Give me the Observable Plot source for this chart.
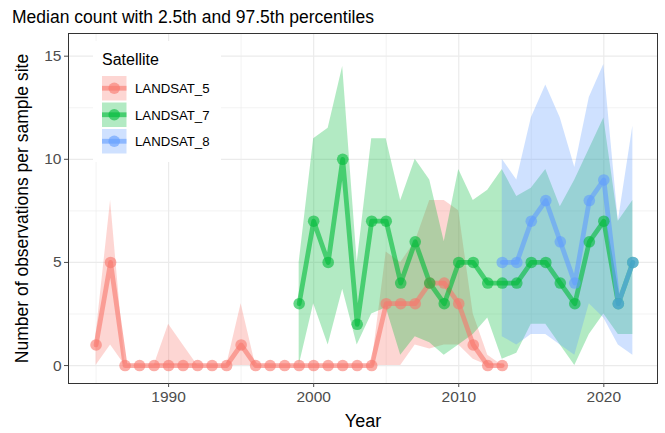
<!DOCTYPE html>
<html><head><meta charset="utf-8">
<script src="https://cdn.jsdelivr.net/npm/d3@7"></script>
<script src="https://cdn.jsdelivr.net/npm/@observablehq/plot@0.6"></script>
<style>
body{margin:0;background:#fff;font-family:"Liberation Sans",Arial,sans-serif;}
#wrap{position:relative;width:665px;height:433px;overflow:hidden;}
#title{position:absolute;left:12px;top:9px;font-size:17.5px;line-height:1;color:#000;white-space:nowrap;}
#legend{position:absolute;left:93px;top:41px;}
</style></head><body>
<div id="wrap"><div id="title">Median count with 2.5th and 97.5th percentiles</div></div>
<script>
// ---- data ----
const satellites = ["LANDSAT_5", "LANDSAT_7", "LANDSAT_8"];
const colors = ["#F8766D", "#00BA38", "#619CFF"];

const years5 = [1985,1986,1987,1988,1989,1990,1991,1992,1993,1994,1995,1996,1997,1998,1999,2000,2001,2002,2003,2004,2005,2006,2007,2008,2009,2010,2011,2012,2013];
const median5 = [1,5,0,0,0,0,0,0,0,0,1,0,0,0,0,0,0,0,0,0,3,3,3,4,4,3,1,0,0];
const lower5  = [0,1,0,0,0,0,0,0,0,0,0,0,0,0,0,0,0,0,0,0,0,0,1,0.8,1,1,0.3,0,0];
const upper5  = [1.5,8,0,0,0,2,1,0,0,0,3,0,0,0,0,0,0,0,0,0,5.5,5,6,8,8,7.5,2.5,0.5,0];

const years7 = [1999,2000,2001,2002,2003,2004,2005,2006,2007,2008,2009,2010,2011,2012,2013,2014,2015,2016,2017,2018,2019,2020,2021,2022];
const median7 = [3,7,5,10,2,7,7,4,6,4,3,5,5,4,4,4,5,5,4,3,6,7,3,5];
const lower7  = [0,3,1,3.7,1,2.5,2.8,0.5,1.4,1.1,0.5,1,1.5,2.3,0.3,0.6,2,2,1,0,1.5,2.5,1.5,1.5];
const upper7  = [5,11,11.5,14.5,5,11,11,8,10,9,6,9.5,8,8.5,9.5,8.2,8.6,9.5,7.7,9,10.5,12,7,8];

const years8 = [2013,2014,2015,2016,2017,2018,2019,2020,2021,2022];
const median8 = [5,5,7,8,6,4,8,9,3,5];
const lower8  = [1.4,1,1.5,1.5,1,0.5,3,2.3,1,0.5];
const upper8  = [10,9,12,13.6,12,9.6,13,14.6,7,11.6];

const xMajor = [1990, 2000, 2010, 2020];
const xMinor = [1985, 1995, 2005, 2015];
const yMajor = [0, 5, 10, 15];
const yMinor = [2.5, 7.5, 12.5];

function rows(sat, years, med, lo, hi) {
  return years.map((y, i) => ({sat, year: y, median: med[i], lo: lo[i], hi: hi[i]}));
}
const data = [
  ...rows("LANDSAT_5", years5, median5, lower5, upper5),
  ...rows("LANDSAT_7", years7, median7, lower7, upper7),
  ...rows("LANDSAT_8", years8, median8, lower8, upper8)
];

const grid = "#EBEBEB";
const font = "'Liberation Sans', Arial, sans-serif";
const chart = Plot.plot({
  width: 665, height: 433,
  marginLeft: 68, marginRight: 8, marginTop: 33, marginBottom: 50,
  x: {domain: [1983.1, 2023.7]},
  y: {domain: [-0.87, 16.1]},
  color: {domain: satellites, range: colors},
  style: {fontFamily: font, background: "white", overflow: "visible"},
  marks: [
    Plot.ruleX(xMinor, {stroke: grid, strokeWidth: 0.6}),
    Plot.ruleY(yMinor, {stroke: grid, strokeWidth: 0.6}),
    Plot.ruleX(xMajor, {stroke: grid, strokeWidth: 1.2}),
    Plot.ruleY(yMajor, {stroke: grid, strokeWidth: 1.2}),
    Plot.areaY(data, {x: "year", y1: "lo", y2: "hi", z: "sat", fill: "sat", fillOpacity: 0.3}),
    Plot.line(data, {x: "year", y: "median", z: "sat", stroke: "sat", strokeWidth: 4.8, strokeOpacity: 0.6}),
    Plot.dot(data, {x: "year", y: "median", fill: "sat", r: 5.8, fillOpacity: 0.6}),
    Plot.frame({stroke: "#333333", strokeWidth: 1}),
    Plot.axisX(xMajor, {tickSize: 4, tickPadding: 3, fontSize: 15.5, color: "#4D4D4D", label: null, tickFormat: d => String(d)}),
    Plot.axisY(yMajor, {tickSize: 4, tickPadding: 3, fontSize: 15.5, color: "#4D4D4D", label: null, tickFormat: d => String(d)}),
    Plot.text(["Year"], {frameAnchor: "bottom", dy: 43, fontSize: 18, fill: "black"}),
    Plot.text(["Number of observations per sample site"], {frameAnchor: "left", textAnchor: "middle", dx: -46, rotate: -90, fontSize: 17.5, fill: "black"})
  ]
});
document.getElementById("wrap").appendChild(chart);

// ---- legend ----
const lg = d3.select("#wrap").append("svg").attr("id", "legend")
  .attr("width", 128).attr("height", 121);
lg.append("rect").attr("width", 128).attr("height", 121).attr("fill", "white");
lg.append("text").attr("x", 9).attr("y", 24).attr("font-size", 16)
  .attr("font-family", font).text("Satellite");
satellites.forEach((s, i) => {
  const y0 = 35 + i * 26.5;
  const g = lg.append("g");
  g.append("rect").attr("x", 9).attr("y", y0).attr("width", 24.5).attr("height", 24.5)
    .attr("fill", colors[i]).attr("fill-opacity", 0.3);
  g.append("line").attr("x1", 9).attr("x2", 33.5).attr("y1", y0 + 12.25).attr("y2", y0 + 12.25)
    .attr("stroke", colors[i]).attr("stroke-width", 4.8).attr("stroke-opacity", 0.6);
  g.append("circle").attr("cx", 21.25).attr("cy", y0 + 12.25).attr("r", 5.8)
    .attr("fill", colors[i]).attr("fill-opacity", 0.6);
  g.append("text").attr("x", 42).attr("y", y0 + 17.2).attr("font-size", 13.2)
    .attr("font-family", font).text(s);
});
</script>
</body></html>
